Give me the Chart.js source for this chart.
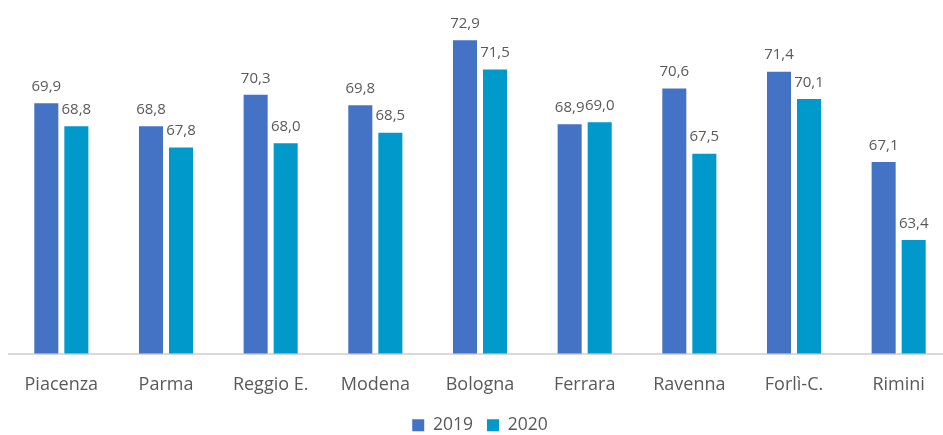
<!DOCTYPE html>
<html>
<head>
<meta charset="utf-8">
<script src="https://cdn.jsdelivr.net/npm/chart.js@4.4.0/dist/chart.umd.min.js"></script>
<style>
  html, body { margin: 0; padding: 0; background: #fff; overflow: hidden; }
  #wrap { position: relative; width: 951px; height: 435px; }
</style>
</head>
<body>
<div id="wrap"><canvas id="myChart"></canvas></div>
<script>
// provinces and yearly values
const province = ['Piacenza', 'Parma', 'Reggio E.', 'Modena', 'Bologna', 'Ferrara', 'Ravenna', 'Forlì-C.', 'Rimini'];
const val2019 = [69.9, 68.8, 70.3, 69.8, 72.9, 68.9, 70.6, 71.4, 67.1];
const val2020 = [68.8, 67.8, 68.0, 68.5, 71.5, 69.0, 67.5, 70.1, 63.4];
const yearLabels = ['2019', '2020'];

const textColor = '#595959';
const fontFamily = "'Open Sans', 'Noto Sans', sans-serif";

// value on top of each bar, with a comma for decimals
const barValues = {
  id: 'barValues',
  afterDatasetsDraw(chart) {
    const ctx = chart.ctx;
    ctx.save();
    ctx.font = '15px ' + fontFamily;
    ctx.fillStyle = textColor;
    ctx.textAlign = 'center';
    ctx.textBaseline = 'bottom';
    chart.data.datasets.forEach(function(ds, i) {
      const meta = chart.getDatasetMeta(i);
      meta.data.forEach(function(bar, j) {
        const txt = ds.data[j].toFixed(1).replace('.', ',');
        ctx.fillText(txt, bar.x, bar.y - 9);
      });
    });
    ctx.restore();
  }
};

var ctx = document.getElementById('myChart').getContext('2d');
var myChart = new Chart(ctx, {
  type: 'bar',
  data: {
    labels: province,
    datasets: [{
      label: yearLabels[0],
      data: val2019,
      backgroundColor: '#4472C4',
      barPercentage: 0.8,
      categoryPercentage: 0.574
    }, {
      label: yearLabels[1],
      data: val2020,
      backgroundColor: '#0099CC',
      barPercentage: 0.8,
      categoryPercentage: 0.574
    }]
  },
  options: {
    responsive: true,
    maintainAspectRatio: false,
    animation: false,
    layout: { padding: { left: 9, right: 0, top: 17, bottom: -9 } },
    plugins: {
      legend: {
        position: 'bottom',
        labels: {
          color: textColor,
          font: { family: fontFamily, size: 17.5 },
          boxWidth: 12,
          boxHeight: 12,
          padding: 14
        }
      },
      tooltip: { enabled: false }
    },
    scales: {
      x: {
        grid: { display: false, drawTicks: false },
        border: { display: true, color: '#D9D9D9', width: 2 },
        ticks: {
          color: textColor,
          font: { family: fontFamily, size: 18 },
          padding: 21
        },
        afterFit: function(scale) { scale.height = 49; }
      },
      y: {
        display: false,
        min: 58,
        max: 74
      }
    }
  },
  plugins: [barValues]
});
</script>
</body>
</html>
